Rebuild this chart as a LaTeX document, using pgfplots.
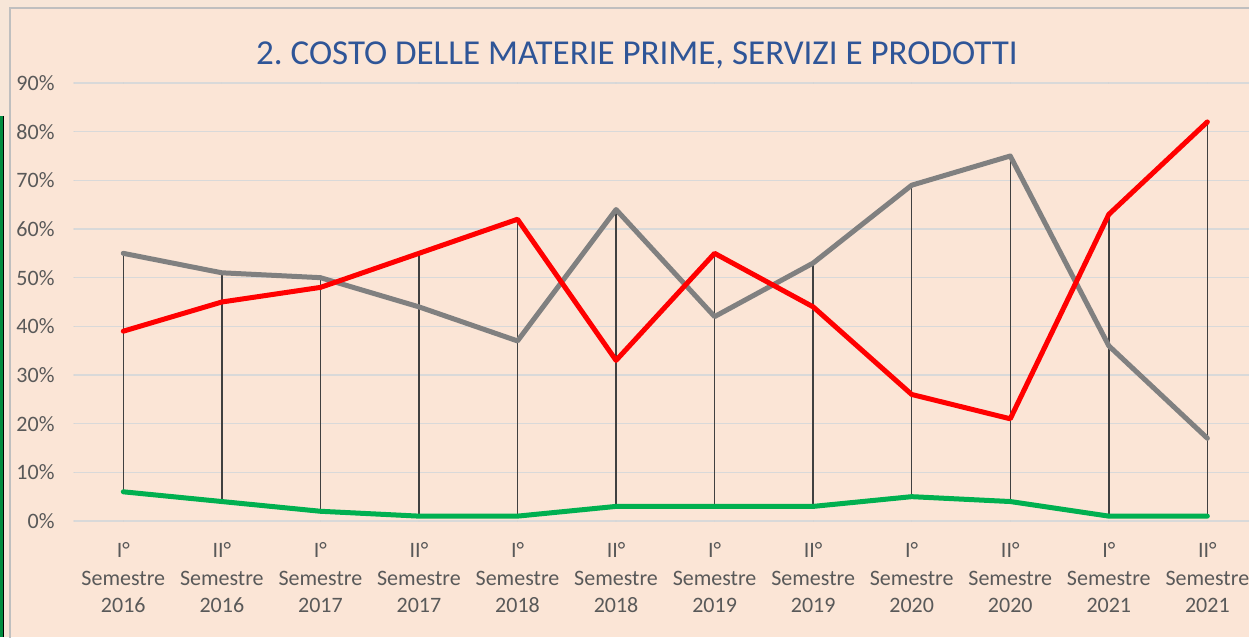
\documentclass[border=0pt]{standalone}
\usepackage{fontspec}
\setmainfont{Carlito}
\usepackage{pgfplots}
\pgfplotsset{compat=1.18}

\definecolor{bgpeach}{HTML}{FBE5D6}
\definecolor{outerbg}{HTML}{F7E6D8}
\definecolor{framegray}{HTML}{BFBFBF}
\definecolor{gridgray}{HTML}{D9D9D9}
\definecolor{textgray}{HTML}{595959}
\definecolor{titleblue}{HTML}{2F5597}
\definecolor{sgray}{HTML}{808080}
\definecolor{sred}{HTML}{FF0000}
\definecolor{sgreen}{HTML}{00B050}
\definecolor{dropgray}{HTML}{404040}

\begin{document}
\frenchspacing
\begin{tikzpicture}
\useasboundingbox (0pt,0pt) rectangle (1249pt,637pt);
\fill[outerbg] (0pt,0pt) rectangle (1249pt,637pt);
\fill[sgreen!80!black] (0pt,0pt) rectangle (3pt,521pt);
\draw[black, line width=1pt] (3.5pt,0pt) -- (3.5pt,521pt);
\fill[bgpeach] (10pt,0pt) rectangle (1249pt,629pt);
\draw[framegray, line width=1.5pt] (10pt,-2pt) -- (10pt,629pt) -- (1252pt,629pt);
\clip (0pt,0pt) rectangle (1249pt,637pt);

\node[font=\fontsize{35}{40}\selectfont, text=titleblue, anchor=base] at (637pt,572pt) {2. COSTO DELLE MATERIE PRIME, SERVIZI E PRODOTTI};

\begin{axis}[
    at={(123.3pt,116pt)}, anchor=origin,
    scale only axis,
    width=1182.6pt, height=438pt,
    xmin=-0.5, xmax=11.5,
    ymin=0, ymax=90,
    axis line style={draw=none},
    major tick length=0,
    ytick={0,10,...,90},
    yticklabels={0\%,10\%,20\%,30\%,40\%,50\%,60\%,70\%,80\%,90\%},
    xtick={0,...,11},
    xticklabels={{I°\\Semestre\\2016},{II°\\Semestre\\2016},{I°\\Semestre\\2017},{II°\\Semestre\\2017},
                 {I°\\Semestre\\2018},{II°\\Semestre\\2018},{I°\\Semestre\\2019},{II°\\Semestre\\2019},
                 {I°\\Semestre\\2020},{II°\\Semestre\\2020},{I°\\Semestre\\2021},{II°\\Semestre\\2021}},
    ymajorgrids,
    grid style={gridgray, line width=1.5pt},
    tick label style={text=textgray, font=\fontsize{22}{27.5}\selectfont},
    xticklabel style={align=center, yshift=-18pt},
    yticklabel style={xshift=-16pt},
    clip=false,
    line join=round, line cap=round,
]
% high-low lines
\addplot[dropgray, line width=1.5pt, unbounded coords=jump] coordinates {
    (0,55) (0,6) (0,nan)
    (1,51) (1,4) (1,nan)
    (2,50) (2,2) (2,nan)
    (3,55) (3,1) (3,nan)
    (4,62) (4,1) (4,nan)
    (5,64) (5,3) (5,nan)
    (6,55) (6,3) (6,nan)
    (7,53) (7,3) (7,nan)
    (8,69) (8,5) (8,nan)
    (9,75) (9,4) (9,nan)
    (10,63) (10,1) (10,nan)
    (11,82) (11,1)
};
\addplot[sgray, line width=5pt] coordinates {
    (0,55) (1,51) (2,50) (3,44) (4,37) (5,64) (6,42) (7,53) (8,69) (9,75) (10,36) (11,17)
};
\addplot[sred, line width=5pt] coordinates {
    (0,39) (1,45) (2,48) (3,55) (4,62) (5,33) (6,55) (7,44) (8,26) (9,21) (10,63) (11,82)
};
\addplot[sgreen, line width=5pt] coordinates {
    (0,6) (1,4) (2,2) (3,1) (4,1) (5,3) (6,3) (7,3) (8,5) (9,4) (10,1) (11,1)
};
\end{axis}
\end{tikzpicture}
\end{document}
